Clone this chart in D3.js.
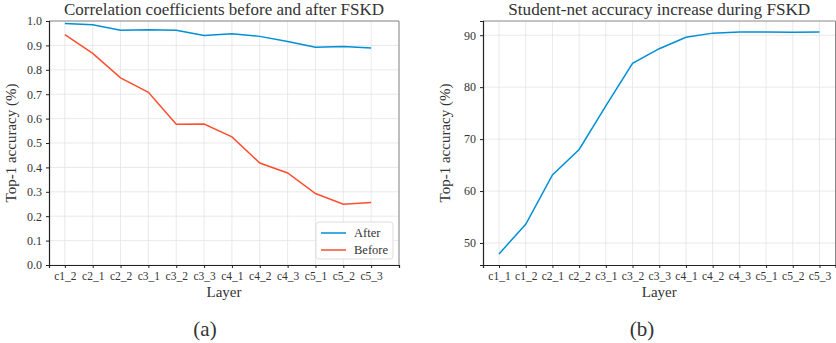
<!DOCTYPE html>
<html>
<head>
<meta charset="utf-8">
<script src="https://cdn.jsdelivr.net/npm/d3@7.9.0/dist/d3.min.js"></script>
<style>
  body { margin: 0; background: #fff; }
  svg text { font-family: "Liberation Serif", "DejaVu Serif", serif; fill: #333; }
  .grid line { stroke: #e3e3e3; stroke-width: 0.8; }
</style>
</head>
<body>
<svg id="chart" width="836" height="343"></svg>
<script>
// left panel: correlation coefficients
const layersA = ['c1_2', 'c2_1', 'c2_2', 'c3_1', 'c3_2', 'c3_3', 'c4_1', 'c4_2', 'c4_3', 'c5_1', 'c5_2', 'c5_3'];
const afterVals = [0.990, 0.985, 0.962, 0.964, 0.962, 0.941, 0.948, 0.937, 0.916, 0.892, 0.895, 0.889];
const beforeVals = [0.944, 0.867, 0.767, 0.708, 0.577, 0.578, 0.525, 0.418, 0.377, 0.293, 0.249, 0.256];
const yTicksA = [0, 0.1, 0.2, 0.3, 0.4, 0.5, 0.6, 0.7, 0.8, 0.9, 1.0];

// right panel: student-net accuracy
const layersB = ['c1_1', 'c1_2', 'c2_1', 'c2_2', 'c3_1', 'c3_2', 'c3_3', 'c4_1', 'c4_2', 'c4_3', 'c5_1', 'c5_2', 'c5_3'];
const accVals = [47.9, 53.6, 63.1, 68.0, 76.4, 84.6, 87.4, 89.6, 90.4, 90.6, 90.6, 90.55, 90.6];
const yTicksB = [50, 60, 70, 80, 90];

const blue = '#008fd5';
const red = '#fc4f30';

const svg = d3.select('#chart');

function drawPanel(opts) {
    const g = svg.append('g');
    const x = d3.scaleLinear().domain(opts.xDomain).range([opts.left, opts.right]);
    const y = d3.scaleLinear().domain(opts.yDomain).range([opts.bottom, opts.top]);

    // grid
    const grid = g.append('g').attr('class', 'grid');
    grid.selectAll('.gx').data(opts.xTicks).join('line')
        .attr('x1', d => x(d)).attr('x2', d => x(d))
        .attr('y1', opts.top).attr('y2', opts.bottom);
    grid.selectAll('.gy').data(opts.yTicks).join('line')
        .attr('y1', d => y(d)).attr('y2', d => y(d))
        .attr('x1', opts.left).attr('x2', opts.right);

    // lines
    opts.series.forEach(s => {
        const line = d3.line().x((d, i) => x(i)).y(d => y(d));
        g.append('path')
            .attr('d', line(s.values))
            .attr('fill', 'none')
            .attr('stroke', s.color)
            .attr('stroke-width', 1.5);
    });

    // frame: top/right light, left/bottom dark
    g.append('line').attr('x1', opts.left).attr('x2', opts.right).attr('y1', opts.top).attr('y2', opts.top)
        .attr('stroke', '#888').attr('stroke-width', 1);
    g.append('line').attr('x1', opts.right).attr('x2', opts.right).attr('y1', opts.top).attr('y2', opts.bottom)
        .attr('stroke', '#888').attr('stroke-width', 1);

    const xAxis = d3.axisBottom(x)
        .tickValues(opts.xTicks)
        .tickSize(3).tickPadding(4)
        .tickFormat(d => opts.labels[d] || '');
    const ax = g.append('g').attr('transform', `translate(0,${opts.bottom})`).call(xAxis);
    ax.select('.domain').attr('stroke', '#222').attr('stroke-width', 1.2);
    ax.selectAll('.tick line').attr('stroke', '#222');
    ax.selectAll('text').attr('font-size', 11.5).attr('fill', '#333');

    const yAxis = d3.axisLeft(y)
        .tickValues(opts.yTicks)
        .tickSize(3).tickPadding(4)
        .tickFormat(opts.yFormat);
    const ay = g.append('g').attr('transform', `translate(${opts.left},0)`).call(yAxis);
    ay.select('.domain').attr('stroke', '#222').attr('stroke-width', 1.2);
    ay.selectAll('.tick line').attr('stroke', '#222');
    ay.selectAll('text').attr('font-size', 12).attr('fill', '#333');
    ax.attr('font-family', null);
    ay.attr('font-family', null);

    const cx = (opts.left + opts.right) / 2;
    g.append('text').attr('x', cx).attr('y', 15)
        .attr('text-anchor', 'middle').attr('font-size', 16)
        .attr('textLength', opts.titleWidth).attr('lengthAdjust', 'spacingAndGlyphs')
        .text(opts.title);
    g.append('text').attr('x', cx).attr('y', 297)
        .attr('text-anchor', 'middle').attr('font-size', 15)
        .text('Layer');
    g.append('text')
        .attr('transform', `translate(${opts.left - 33},${(opts.top + opts.bottom) / 2}) rotate(-90)`)
        .attr('text-anchor', 'middle').attr('font-size', 15)
        .text('Top-1 accuracy (%)');
    g.append('text').attr('x', opts.captionX).attr('y', 336)
        .attr('text-anchor', 'middle').attr('font-size', 21)
        .text(opts.caption);
    return { g, x, y };
}

// panel (a)
const pa = drawPanel({
    left: 49, right: 399, top: 21, bottom: 265,
    xDomain: [-0.57, 12], yDomain: [0, 1],
    xTicks: d3.range(13), yTicks: yTicksA,
    labels: layersA, yFormat: d3.format('.1f'),
    series: [{ values: afterVals, color: blue }, { values: beforeVals, color: red }],
    title: 'Correlation coefficients before and after FSKD', titleWidth: 320,
    caption: '(a)', captionX: 205
});

// legend for (a)
const legend = pa.g.append('g').attr('transform', 'translate(316,222)');
legend.append('rect').attr('width', 77).attr('height', 37).attr('rx', 3)
    .attr('fill', '#fff').attr('fill-opacity', 0.9).attr('stroke', '#ddd');
[{ name: 'After', color: blue }, { name: 'Before', color: red }].forEach((d, i) => {
    const row = legend.append('g').attr('transform', `translate(0,${11 + i * 17})`);
    row.append('line').attr('x1', 5).attr('x2', 30).attr('stroke', d.color).attr('stroke-width', 1.5);
    row.append('text').attr('x', 38).attr('y', 4).attr('font-size', 12.5).text(d.name);
});

// panel (b)
const ext = d3.extent(accVals);
const pad = (ext[1] - ext[0]) * 0.05;
drawPanel({
    left: 483, right: 835.5, top: 21, bottom: 265,
    xDomain: [-0.6, 12.6], yDomain: [ext[0] - pad, ext[1] + pad],
    xTicks: d3.range(13), yTicks: yTicksB,
    labels: layersB, yFormat: d3.format('d'),
    series: [{ values: accVals, color: blue }],
    title: 'Student-net accuracy increase during FSKD', titleWidth: 302,
    caption: '(b)', captionX: 642
});
</script>
</body>
</html>
